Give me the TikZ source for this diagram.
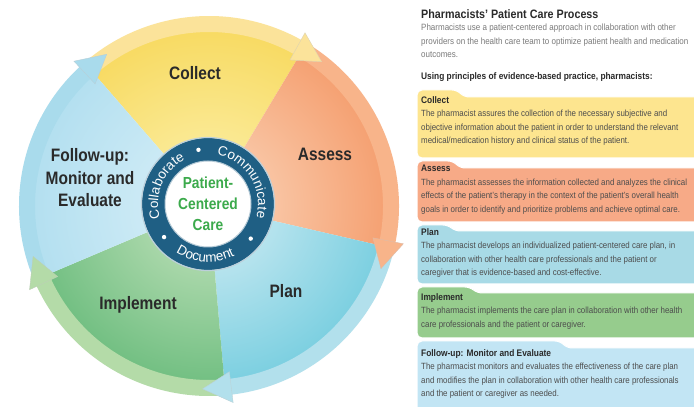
\documentclass[tikz,border=0pt]{standalone}
\usepackage{fontspec}
\setmainfont{Liberation Sans}
\newfontfamily\condfont[FakeStretch=0.86]{Liberation Sans}
\newfontfamily\panelfont[FakeStretch=0.88]{Liberation Sans}
\usetikzlibrary{decorations.text}
\definecolor{collectL}{HTML}{FCF2B0}
\definecolor{collectD}{HTML}{F3C316}
\definecolor{collectB}{HTML}{FBE39A}
\definecolor{assessL}{HTML}{FBD8BE}
\definecolor{assessD}{HTML}{EF6A27}
\definecolor{assessB}{HTML}{F8B48A}
\definecolor{planL}{HTML}{D6EEF5}
\definecolor{planD}{HTML}{22B1CC}
\definecolor{planB}{HTML}{B2E0EC}
\definecolor{implL}{HTML}{C7E4BF}
\definecolor{implD}{HTML}{1E9B46}
\definecolor{implB}{HTML}{B4DBA8}
\definecolor{followL}{HTML}{DAF0F8}
\definecolor{followD}{HTML}{8DCFE8}
\definecolor{followB}{HTML}{A9DBEC}
\definecolor{hubblue}{HTML}{1F5F84}
\definecolor{hubgreen}{HTML}{3CAA4C}
\definecolor{collectBox}{HTML}{FDE58F}
\definecolor{assessBox}{HTML}{F7AA87}
\definecolor{planBox}{HTML}{A8DAE6}
\definecolor{implBox}{HTML}{96CC8D}
\definecolor{followBox}{HTML}{C2E5F4}
\definecolor{ink}{HTML}{2A2A2A}
\definecolor{bodygray}{HTML}{4D4D4D}
\definecolor{introgray}{HTML}{7A7A7A}
\tikzset{%
  stage/.style = {font=\condfont\bfseries\fontsize{18}{22.5}\selectfont,
    text=ink, align=center, inner sep=0pt},
  hubtext/.style = {font=\condfont\bfseries\fontsize{16}{21}\selectfont,
    text=hubgreen, align=center, inner sep=0pt},
  ringword/.style = {decorate, decoration={text along path, text align=center,
    text={|\fontsize{13.5}{14}\selectfont\color{white}|#1}}},
  panel/.style = {font=\panelfont\fontsize{9}{13.5}\selectfont,
    text=bodygray, align=left, inner sep=0pt},
  tabbox/.style = {draw=white, line width=1pt, rounded corners=5pt}
}
\newcommand\boxhead[1]{{\fontsize{9.5}{13.5}\selectfont\bfseries\color{ink}#1}}
\begin{document}
\begin{tikzpicture}[x=1pt,y=1pt]
\useasboundingbox (0,0) rectangle (694,407);
\fill[white] (0,0) rectangle (694,407);
\coordinate (c) at (209,201);
\coordinate (hub) at (208,203);
\foreach \a/\b/\cl/\cd/\cb in {131/59/collectL/collectD/collectB,
  59/-13/assessL/assessD/assessB, -13/-85/planL/planD/planB,
  -85/-157/implL/implD/implB, -157/-229/followL/followD/followB}{
  \begin{scope}
    \clip[shift={(c)}] (0,0) -- (\a:176) arc[start angle=\a, end angle=\b, radius=176] -- cycle;
    \shade[inner color=\cl, outer color=\cd] (c) circle (352);
  \end{scope}
  \draw[shift={(c)}, \cb, line width=16pt] (\a:182) arc[start angle=\a, end angle=\b, radius=182];
}
\foreach \b/\cb in {59/collectB, -13/assessB, -85/planB, -157/implB, 131/followB}
  \path[shift={(c)}, fill=\cb, draw=\cb!80!black!60!white, line width=0.4pt]
    (\b+2:167) -- (\b-7:183) -- (\b+2:198) -- cycle;
\fill[hubblue] (hub) circle (66);
\draw[hubblue!30!white, line width=1.2pt] (hub) circle (66.5);
\fill[white] (hub) circle (43);
\draw[hubblue!35!white, line width=1pt] (hub) circle (43);
\path[shift={(hub)}, ringword=Collaborate] (212:50) arc[start angle=212, end angle=102, radius=50];
\path[shift={(hub)}, ringword=Communicate] (87:50) arc[start angle=87, end angle=-23, radius=50];
\path[shift={(hub)}, ringword=Document] (-140:58) arc[start angle=-140, end angle=-46, radius=58];
\foreach \d in {100,217,-39}
  \fill[shift={(hub)}, white] (\d:55) circle (2.2);
\node[hubtext] (pcc) at (hub) {Patient-\\Centered\\Care};
\node[stage] (collect) at (195,334) {Collect};
\node[stage] (assess) at (325,253) {Assess};
\node[stage] (plan) at (286,116) {Plan};
\node[stage] (implement) at (138,102) {Implement};
\node[stage] (followup) at (90,229) {Follow-up:\\Monitor and\\Evaluate};
\node[panel, anchor=west, text=ink, font=\panelfont\bfseries\fontsize{12.2}{14}\selectfont]
  (title) at (421,393) {Pharmacists’ Patient Care Process};
\node[panel, anchor=north west, text=introgray, font=\panelfont\fontsize{9.1}{13.5}\selectfont]
  (intro) at (421,383)
  {Pharmacists use a patient-centered approach in collaboration with other\\
   providers on the health care team to optimize patient health and medication\\
   outcomes.};
\node[panel, anchor=west, text=ink, font=\panelfont\bfseries\fontsize{9.5}{13.5}\selectfont]
  (using) at (421,330) {Using principles of evidence-based practice, pharmacists:};
\foreach \fc/\tt/\mt/\bt/\tr in {collectBox/317/310/249/457, assessBox/246/239/185/453,
  planBox/182/176/123/448, implBox/120/114/69/470, followBox/66/59/-5/560}
  \path[tabbox, fill=\fc] (417,\bt) -- (417,\tt) -- (\tr,\tt) -- (\tr+7,\mt)
    -- (705,\mt) -- (705,\bt) -- cycle;
\node[panel, anchor=north west] (collectTxt) at (421,311)
  {\boxhead{Collect}\\
   The pharmacist assures the collection of the necessary subjective and\\
   objective information about the patient in order to understand the relevant\\
   medical/medication history and clinical status of the patient.};
\node[panel, anchor=north west] (assessTxt) at (421,242)
  {\boxhead{Assess}\\
   The pharmacist assesses the information collected and analyzes the clinical\\
   effects of the patient’s therapy in the context of the patient’s overall health\\
   goals in order to identify and prioritize problems and achieve optimal care.};
\node[panel, anchor=north west] (planTxt) at (421,179)
  {\boxhead{Plan}\\
   The pharmacist develops an individualized patient-centered care plan, in\\
   collaboration with other health care professionals and the patient or\\
   caregiver that is evidence-based and cost-effective.};
\node[panel, anchor=north west] (implementTxt) at (421,114)
  {\boxhead{Implement}\\
   The pharmacist implements the care plan in collaboration with other health\\
   care professionals and the patient or caregiver.};
\node[panel, anchor=north west] (followupTxt) at (421,58)
  {\boxhead{Follow-up: Monitor and Evaluate}\\
   The pharmacist monitors and evaluates the effectiveness of the care plan\\
   and modifies the plan in collaboration with other health care professionals\\
   and the patient or caregiver as needed.};
\end{tikzpicture}
\end{document}
